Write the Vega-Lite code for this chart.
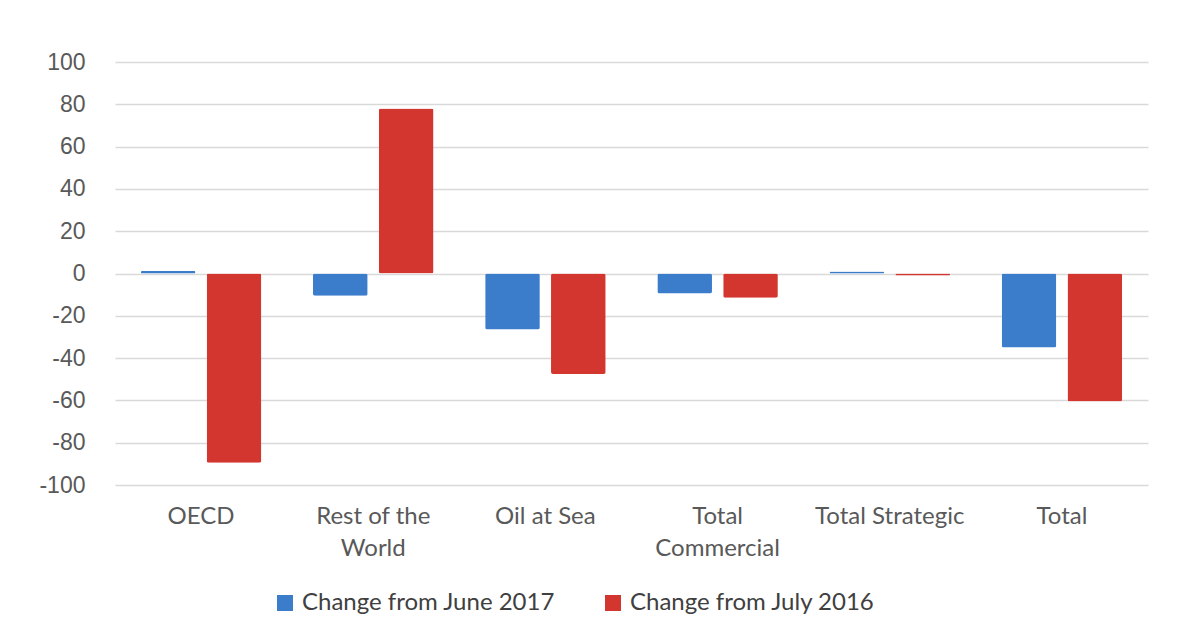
{
  "$schema": "https://vega.github.io/schema/vega-lite/v6.json",
  "autosize": "none",
  "width": 1033,
  "height": 423,
  "padding": {"left": 115, "top": 62, "right": 29, "bottom": 152},
  "background": "white",
  "data": {
    "values": [
      {"category": "OECD", "series": "Change from June 2017", "value": 1.2},
      {"category": "OECD", "series": "Change from July 2016", "value": -89.5},
      {"category": "Rest of the|World", "series": "Change from June 2017", "value": -10.5},
      {"category": "Rest of the|World", "series": "Change from July 2016", "value": 78},
      {"category": "Oil at Sea", "series": "Change from June 2017", "value": -26.5},
      {"category": "Oil at Sea", "series": "Change from July 2016", "value": -47.5},
      {"category": "Total|Commercial", "series": "Change from June 2017", "value": -9.5},
      {"category": "Total|Commercial", "series": "Change from July 2016", "value": -11.5},
      {"category": "Total Strategic", "series": "Change from June 2017", "value": 1},
      {"category": "Total Strategic", "series": "Change from July 2016", "value": -1},
      {"category": "Total", "series": "Change from June 2017", "value": -35},
      {"category": "Total", "series": "Change from July 2016", "value": -60.5}
    ]
  },
  "mark": {"type": "bar", "cornerRadius": 2},
  "encoding": {
    "x": {
      "field": "category",
      "type": "nominal",
      "sort": null,
      "scale": {"paddingInner": 0.3, "paddingOuter": 0.15},
      "axis": {
        "title": null,
        "labelAngle": 0,
        "labelExpr": "split(datum.label, '|')",
        "labelFont": "Lato",
        "labelFontSize": 24,
        "labelColor": "#595959",
        "labelLineHeight": 32,
        "labelPadding": 19,
        "labelLimit": 300,
        "domain": false,
        "ticks": false,
        "grid": false
      }
    },
    "xOffset": {
      "field": "series",
      "type": "nominal",
      "sort": ["Change from June 2017", "Change from July 2016"],
      "scale": {"paddingInner": 0.17, "paddingOuter": 0}
    },
    "y": {
      "field": "value",
      "type": "quantitative",
      "scale": {"domain": [-100, 100], "nice": false},
      "axis": {
        "title": null,
        "values": [-100, -80, -60, -40, -20, 0, 20, 40, 60, 80, 100],
        "labelExpr": "datum.value + ''",
        "labelFont": "Liberation Sans",
        "labelFontSize": 23,
        "labelColor": "#595959",
        "labelPadding": 30,
        "domain": false,
        "ticks": false,
        "gridColor": "#d9d9d9",
        "gridWidth": 1.5
      }
    },
    "color": {
      "field": "series",
      "type": "nominal",
      "sort": ["Change from June 2017", "Change from July 2016"],
      "scale": {"domain": ["Change from June 2017", "Change from July 2016"], "range": ["#3b7ccb", "#d3352f"]},
      "legend": {
        "title": null,
        "orient": "none",
        "direction": "horizontal",
        "legendX": 158,
        "legendY": 529,
        "symbolType": "square",
        "symbolSize": 256,
        "symbolStrokeWidth": 0,
        "labelFont": "Lato",
        "labelFontSize": 24,
        "labelColor": "#404040",
        "labelOffset": 5,
        "labelLimit": 400,
        "columnPadding": 45
      }
    }
  },
  "config": {"view": {"stroke": null}}
}
